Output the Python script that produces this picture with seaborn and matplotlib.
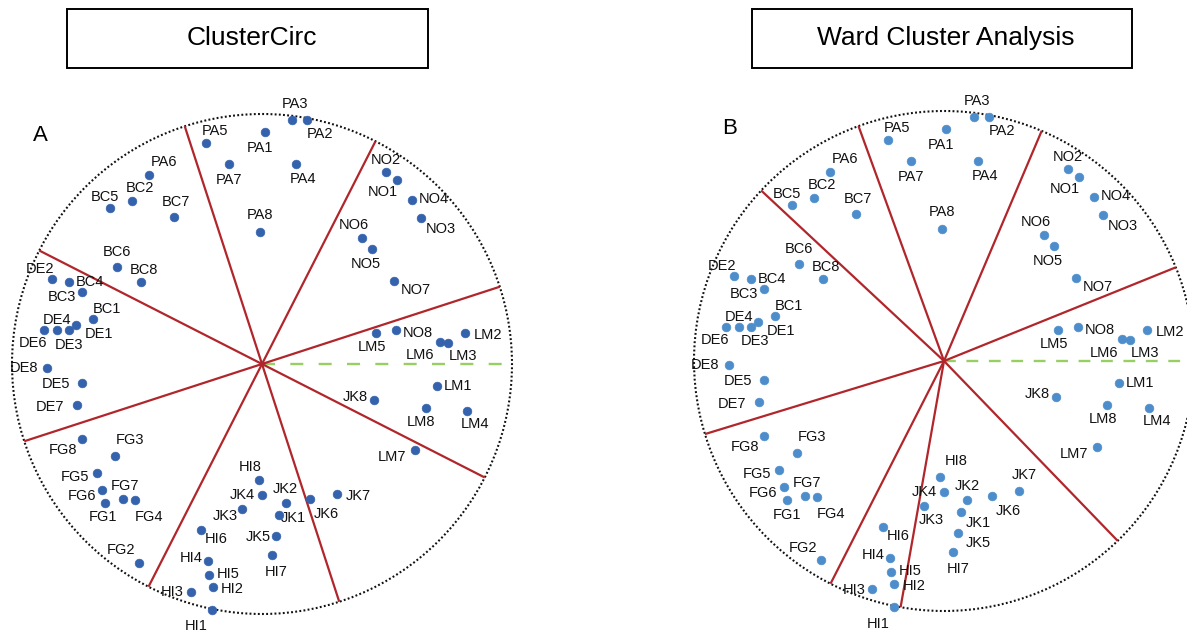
import numpy as np
import pandas as pd
import matplotlib
matplotlib.use("Agg")
import matplotlib.pyplot as plt
import seaborn as sns
from matplotlib.patches import Circle, Rectangle

# Item loadings on the two circumplex dimensions (unit circle = max loading)
items = [
    "PA1", "PA2", "PA3", "PA4", "PA5", "PA6", "PA7", "PA8",
    "BC1", "BC2", "BC3", "BC4", "BC5", "BC6", "BC7", "BC8",
    "DE1", "DE2", "DE3", "DE4", "DE5", "DE6", "DE7", "DE8",
    "FG1", "FG2", "FG3", "FG4", "FG5", "FG6", "FG7", "FG8",
    "HI1", "HI2", "HI3", "HI4", "HI5", "HI6", "HI7", "HI8",
    "JK1", "JK2", "JK3", "JK4", "JK5", "JK6", "JK7", "JK8",
    "LM1", "LM2", "LM3", "LM4", "LM5", "LM6", "LM7", "LM8",
    "NO1", "NO2", "NO3", "NO4", "NO5", "NO6", "NO7", "NO8",
]
load_x = [
    0.010, 0.180, 0.120, 0.135, -0.225, -0.454, -0.133, -0.007,
    -0.677, -0.522, -0.720, -0.774, -0.609, -0.582, -0.353, -0.486,
    -0.745, -0.840, -0.772, -0.822, -0.720, -0.871, -0.739, -0.862,
    -0.627, -0.493, -0.588, -0.509, -0.661, -0.642, -0.556, -0.721,
    -0.200, -0.198, -0.286, -0.216, -0.212, -0.244, 0.038, -0.014,
    0.067, 0.094, -0.079, 0.000, 0.057, 0.193, 0.300, 0.449,
    0.702, 0.814, 0.745, 0.821, 0.457, 0.711, 0.612, 0.654,
    0.541, 0.496, 0.636, 0.600, 0.440, 0.400, 0.529, 0.535,
]
load_y = [
    0.927, 0.978, 0.978, 0.800, 0.883, 0.756, 0.800, 0.530,
    0.181, 0.654, 0.288, 0.330, 0.624, 0.388, 0.588, 0.329,
    0.158, 0.340, 0.135, 0.137, -0.076, 0.137, -0.162, -0.015,
    -0.556, -0.794, -0.366, -0.543, -0.437, -0.504, -0.540, -0.300,
    -0.982, -0.892, -0.910, -0.789, -0.844, -0.664, -0.765, -0.464,
    -0.602, -0.556, -0.578, -0.525, -0.689, -0.540, -0.520, -0.143,
    -0.089, 0.125, 0.084, -0.188, 0.126, 0.089, -0.344, -0.176,
    0.735, 0.769, 0.585, 0.656, 0.462, 0.506, 0.333, 0.135,
]

# Cluster boundary angles (degrees) for each method, and the reference axis
bounds_clustercirc = [18, 63, 108, 153, 198, 243, 288, 333]
bounds_ward = [22, 67, 110, 137, 197, 243, 260, 314]
reference_angle = 0

titles = ["ClusterCirc", "Ward Cluster Analysis"]
panel_letters = ["A", "B"]

# Label placement (pixel offsets from each point: right, down)
label_offsets = {
    "PA1": (-5, 16), "PA2": (13, 14), "PA3": (3, -16), "PA4": (7, 15),
    "PA5": (9, -12), "PA6": (15, -13), "PA7": (0, 16), "PA8": (0, -17),
    "BC1": (14, -10), "BC2": (8, -13), "BC3": (-20, 5), "BC4": (21, 0),
    "BC5": (-5, -11), "BC6": (0, -15), "BC7": (2, -15), "BC8": (3, -12),
    "DE1": (23, 9), "DE2": (-12, -10), "DE3": (0, 15), "DE4": (0, -10),
    "DE5": (-26, 1), "DE6": (-11, 13), "DE7": (-27, 2), "DE8": (-23, 0),
    "FG1": (-2, 14), "FG2": (-18, -12), "FG3": (15, -16), "FG4": (14, 17),
    "FG5": (-22, 4), "FG6": (-20, 6), "FG7": (2, -13), "FG8": (-19, 11),
    "HI1": (-16, 17), "HI2": (20, 2), "HI3": (-18, 1), "HI4": (-17, -3),
    "HI5": (19, -1), "HI6": (15, 9), "HI7": (5, 17), "HI8": (-8, -13),
    "JK1": (15, 3), "JK2": (0, -14), "JK3": (-17, 7), "JK4": (-20, 0),
    "JK5": (-18, 1), "JK6": (16, 15), "JK7": (21, 2), "JK8": (-19, -3),
    "LM1": (21, 0), "LM2": (23, 2), "LM3": (15, 13), "LM4": (8, 13),
    "LM5": (-4, 14), "LM6": (-20, 13), "LM7": (-23, 7), "LM8": (-4, 14),
    "NO1": (-14, 12), "NO2": (0, -12), "NO3": (20, 11), "NO4": (22, -1),
    "NO5": (-6, 15), "NO6": (-8, -13), "NO7": (22, 9), "NO8": (22, 3),
}
ward_label_offsets = dict(label_offsets)
ward_label_offsets.update({
    "HI8": (16, -16), "JK1": (18, 11), "JK3": (7, 15), "JK5": (20, 10),
    "JK7": (5, -16), "FG1": (0, 15), "DE3": (4, 14), "LM6": (-18, 14),
})

df = pd.DataFrame({"item": items, "x": load_x, "y": load_y})

sns.set_theme(style="white")
plt.rcParams["font.family"] = ["Liberation Sans", "DejaVu Sans"]

W, H, DPI = 1187, 632, 100
fig = plt.figure(figsize=(W / DPI, H / DPI), dpi=DPI)
fig.patch.set_facecolor("white")

R = 250          # circle radius in pixels
HALF = 1.12      # half-width of each panel in circle units

RED = "#b0262b"
GREEN = "#98cf63"


def draw_panel(cx, cy, bounds, dot_color, offsets, dashes):
    ax = fig.add_axes([(cx - HALF * R) / W, 1 - (cy + HALF * R) / H,
                       2 * HALF * R / W, 2 * HALF * R / H])
    ax.set_xlim(-HALF, HALF)
    ax.set_ylim(-HALF, HALF)
    ax.set_aspect("equal")
    ax.set_axis_off()
    ax.patch.set_alpha(0)

    ax.add_patch(Circle((0, 0), 1.0, fill=False, ec="#111111",
                        lw=1.5, ls=(0, (0.9, 1.1)), zorder=1))

    ra = np.deg2rad(reference_angle)
    ax.plot([0, np.cos(ra)], [0, np.sin(ra)], color=GREEN, lw=1.7,
            dashes=dashes, zorder=1.5)

    for ang in bounds:
        a = np.deg2rad(ang)
        ax.plot([0, np.cos(a)], [0, np.sin(a)], color=RED, lw=1.6,
                solid_capstyle="butt", zorder=2)

    sns.scatterplot(data=df, x="x", y="y", ax=ax, s=40, color=dot_color,
                    edgecolor=dot_color, linewidth=0.4, zorder=3, legend=False)
    ax.set_xlabel("")
    ax.set_ylabel("")

    for name, x, y in zip(df["item"], df["x"], df["y"]):
        dx, dy = offsets[name]
        ax.annotate(name, (x, y), xytext=(dx, -dy), textcoords="offset pixels",
                    ha="center", va="center", fontsize=10.5, color="#111111",
                    zorder=4)
    return ax


draw_panel(262, 364, bounds_clustercirc, "#3562ac", label_offsets, (5.5, 6.5))
draw_panel(944, 361, bounds_ward, "#4d8dcb", ward_label_offsets, (5.0, 4.5))

# Method title boxes
boxes = [(67, 9, 428, 68), (752, 9, 1132, 68)]
for (x0, y0, x1, y1), title in zip(boxes, titles):
    fig.add_artist(Rectangle((x0 / W, 1 - y1 / H), (x1 - x0) / W, (y1 - y0) / H,
                             transform=fig.transFigure, fill=False,
                             ec="black", lw=1.4))
    fig.text((x0 + x1) / 2 / W + 4 / W, 1 - 45 / H, title, ha="center",
             va="baseline", fontsize=19, color="black")

# Panel letters
fig.text(40 / W, 1 - 141 / H, panel_letters[0], ha="center", va="baseline",
         fontsize=16, color="black")
fig.text(730 / W, 1 - 134 / H, panel_letters[1], ha="center", va="baseline",
         fontsize=16, color="black")

fig.savefig("out.png", dpi=DPI, facecolor="white")
